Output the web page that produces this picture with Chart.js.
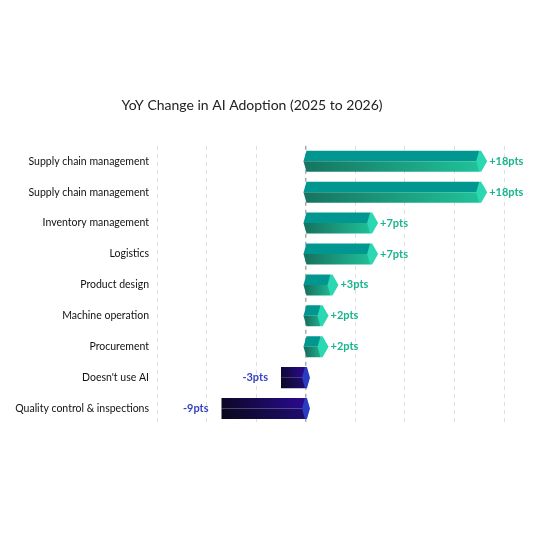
<!DOCTYPE html>
<html>
<head>
<meta charset="utf-8">
<script src="https://cdn.jsdelivr.net/npm/chart.js@4"></script>
<style>body{margin:0;background:#fff}</style>
</head>
<body>
<canvas id="myChart" width="548" height="556"></canvas>
<script>
// datos del grafico
const categorias = ["Supply chain management", "Supply chain management", "Inventory management", "Logistics",
  "Product design", "Machine operation", "Procurement", "Doesn't use AI", "Quality control & inspections"];
const valores = [18, 18, 7, 7, 3, 2, 2, -3, -9];
const etiquetas = ["+18pts", "+18pts", "+7pts", "+7pts", "+3pts", "+2pts", "+2pts", "-3pts", "-9pts"];

// dibuja las barras con efecto 3D y las etiquetas
const barras3d = {
  id: "barras3d",
  afterDatasetsDraw(chart) {
    const ctx = chart.ctx;
    const meta = chart.getDatasetMeta(0);
    meta.data.forEach((bar, i) => {
      const v = valores[i];
      const h = bar.height, top = bar.y - h / 2, mid = bar.y, bot = bar.y + h / 2;
      const x0 = bar.base, x1 = bar.x;
      const d = v >= 0 ? 1 : -1;
      const tip = 5 * d;
      const xe = x1 - tip;
      let g = ctx.createLinearGradient(x0, 0, x1, 0);
      if (v >= 0) { g.addColorStop(0, "#167561"); g.addColorStop(1, "#20c49c"); }
      else { g.addColorStop(0, "#1f0c6e"); g.addColorStop(1, "#080818"); }
      // cara superior
      ctx.beginPath();
      ctx.moveTo(x0 - 3 * d, mid); ctx.lineTo(x0, top); ctx.lineTo(xe, top); ctx.lineTo(xe, mid); ctx.closePath();
      if (v >= 0) ctx.fillStyle = "#029690";
      else { let g2 = ctx.createLinearGradient(x0, 0, x1, 0); g2.addColorStop(0, "#2a0a90"); g2.addColorStop(1, "#0a0820"); ctx.fillStyle = g2; }
      ctx.fill();
      // cara inferior
      ctx.beginPath();
      ctx.moveTo(x0 - 3 * d, mid); ctx.lineTo(xe, mid); ctx.lineTo(xe, bot); ctx.lineTo(x0, bot); ctx.closePath();
      ctx.fillStyle = g; ctx.fill();
      // tapa
      ctx.beginPath();
      if (v >= 0) {
        ctx.moveTo(xe, top); ctx.lineTo(xe + tip * 0.4, top); ctx.lineTo(x1 + tip * 0.6, mid);
        ctx.lineTo(xe + tip * 0.4, bot); ctx.lineTo(xe, bot); ctx.lineTo(xe - tip * 0.6, mid);
        ctx.fillStyle = "#2bd8b2";
      } else {
        ctx.moveTo(x0, top); ctx.lineTo(x0 + 2, top); ctx.lineTo(x0 + 5, mid); ctx.lineTo(x0 + 2, bot); ctx.lineTo(x0, bot); ctx.lineTo(x0 - 3, mid);
        ctx.fillStyle = "#2a3cc0";
      }
      ctx.closePath();
      ctx.fill();
      // etiqueta
      ctx.font = "bold 11px Lato, 'Open Sans', sans-serif";
      ctx.textBaseline = "middle";
      ctx.fillStyle = v >= 0 ? "#19b38e" : "#3742bf";
      ctx.textAlign = v >= 0 ? "left" : "right";
      ctx.fillText(etiquetas[i], v >= 0 ? x1 + 5 : x1 - 8, mid);
    });
  }
};

const myChart = new Chart(document.getElementById("myChart"), {
  type: "bar",
  data: {
    labels: categorias,
    datasets: [{ data: valores, backgroundColor: "rgba(0,0,0,0)", barPercentage: 0.68, categoryPercentage: 1 }]
  },
  options: {
    responsive: false,
    animation: false,
    indexAxis: "y",
    layout: { padding: { top: 97, right: 44, bottom: 132, left: 0 } },
    plugins: {
      legend: { display: false },
      tooltip: { enabled: false },
      title: {
        display: true, text: "YoY Change in AI Adoption (2025 to 2026)", color: "#222",
        font: { family: "Lato, 'Open Sans', sans-serif", size: 14, weight: "normal" }, padding: { bottom: 32 }
      }
    },
    scales: {
      x: {
        min: -15, max: 20,
        ticks: { display: false, stepSize: 5 },
        border: { display: false, dash: [4, 4] },
        grid: {
          color: c => c.tick && c.tick.value === 0 ? "#aaa" : "#ddd",
          lineWidth: c => c.tick && c.tick.value === 0 ? 1.5 : 1,
          drawTicks: false
        }
      },
      y: {
        afterFit(scale) { scale.width = 157; },
        grid: { display: false },
        border: { display: false },
        ticks: { color: "#111", padding: 0, font: { family: "Lato, 'Open Sans', sans-serif", size: 10.5 } }
      }
    }
  },
  plugins: [barras3d]
});
</script>
</body>
</html>
